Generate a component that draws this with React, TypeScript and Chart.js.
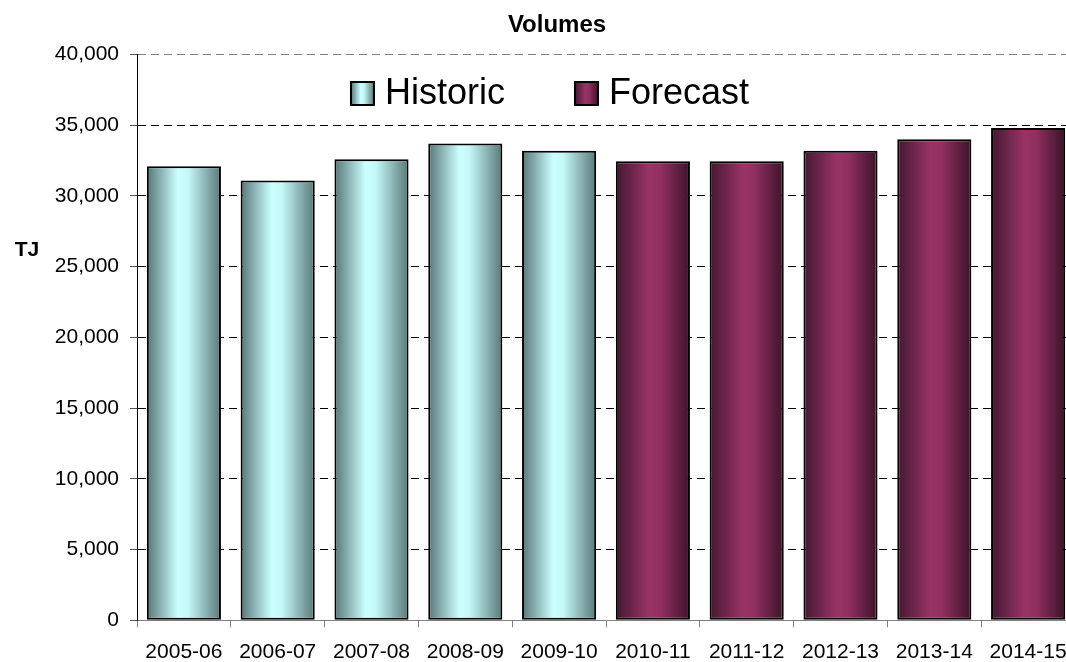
import { useEffect, useRef } from 'react';
import { Chart, registerables } from 'chart.js';

Chart.register(...registerables);

// Financial years on the category axis
const categories = [
  '2005-06', '2006-07', '2007-08', '2008-09', '2009-10',
  '2010-11', '2011-12', '2012-13', '2013-14', '2014-15',
];

// Annual volumes in TJ
const historic = [32100, 31100, 32600, 33700, 33200, null, null, null, null, null];
const forecast = [null, null, null, null, null, 32450, 32450, 33200, 34000, 34800];

const seriesNames = ['Historic', 'Forecast'];
const chartTitle = 'Volumes';
const unitText = 'TJ';
const yMin = 0;
const yMax = 40000;
const yStep = 5000;

const FONT = '"Liberation Sans", Arial, Helvetica, sans-serif';
const BAR_PCT = 0.79;

// Horizontal shading used for the cylinder-like bars
const historicStops: [number, string][] = [
  [0, '#577676'],
  [0.42, '#ccffff'],
  [0.56, '#c4f7f7'],
  [1, '#5a7878'],
];
const forecastStops: [number, string][] = [
  [0, '#431830'],
  [0.45, '#993366'],
  [0.6, '#913061'],
  [1, '#3c1329'],
];

function barFill(stops: [number, string][]) {
  return (c: any) => {
    const chart = c.chart;
    const xs = chart.scales?.x;
    if (c.type !== 'data' || !chart.chartArea || !xs) return stops[1][1];
    const center = xs.getPixelForValue(c.dataIndex);
    const half = ((xs.width / categories.length) * BAR_PCT) / 2;
    const g = chart.ctx.createLinearGradient(center - half, 0, center + half, 0);
    stops.forEach(([o, col]) => g.addColorStop(o, col));
    return g;
  };
}

// Legend drawn inside the plot area, above the bars
const insideLegend = {
  id: 'insideLegend',
  afterDatasetsDraw(chart: any) {
    const { ctx, chartArea } = chart;
    const box = 23;
    const textGap = 11;
    const itemGap = 70;
    ctx.save();
    ctx.font = `36px ${FONT}`;
    const widths = seriesNames.map((n) => ctx.measureText(n).width);
    const total = widths.reduce((a, w) => a + box + textGap + w, 0) + itemGap * (seriesNames.length - 1);
    const centerX = chartArea.left + 413;
    let x = centerX - total / 2;
    const top = chartArea.top + 27.5;
    const mid = top + box / 2;
    seriesNames.forEach((name, i) => {
      const stops = i === 0 ? historicStops : forecastStops;
      const g = ctx.createLinearGradient(x, 0, x + box, 0);
      stops.forEach(([o, col]) => g.addColorStop(o, col));
      ctx.fillStyle = g;
      ctx.fillRect(x, top, box, box);
      ctx.lineWidth = 2;
      ctx.strokeStyle = '#000';
      ctx.strokeRect(x, top, box, box);
      ctx.fillStyle = '#000';
      ctx.textAlign = 'left';
      ctx.textBaseline = 'middle';
      ctx.fillText(name, x + box + textGap, mid + 1);
      x += box + textGap + widths[i] + itemGap;
    });
    ctx.restore();
  },
};

// Title above the plot and horizontal unit label left of the value axis
const annotations = {
  id: 'annotations',
  afterDraw(chart: any) {
    const { ctx, chartArea } = chart;
    ctx.save();
    ctx.fillStyle = '#000';
    ctx.textAlign = 'center';
    ctx.textBaseline = 'middle';
    ctx.font = `bold 24px ${FONT}`;
    ctx.fillText(chartTitle, 557, 25);
    ctx.font = `bold 21px ${FONT}`;
    ctx.fillText(unitText, 27, chartArea.top + 196);
    ctx.restore();
  },
};

export default function App() {
  const ref = useRef<HTMLCanvasElement>(null);

  useEffect(() => {
    const canvas = ref.current;
    if (!canvas) return;
    const chart = new Chart(canvas, {
      type: 'bar',
      data: {
        labels: categories,
        datasets: [
          {
            label: seriesNames[0],
            data: historic,
            backgroundColor: barFill(historicStops),
            borderColor: '#000',
            borderWidth: 2,
            borderSkipped: false,
          },
          {
            label: seriesNames[1],
            data: forecast,
            backgroundColor: barFill(forecastStops),
            borderColor: '#000',
            borderWidth: 2,
            borderSkipped: false,
          },
        ],
      },
      options: {
        responsive: false,
        animation: false,
        devicePixelRatio: 1,
        layout: { padding: { left: 0, right: 10, top: 54.5, bottom: 0 } },
        datasets: {
          bar: { barPercentage: BAR_PCT, categoryPercentage: 1 },
        },
        plugins: {
          legend: { display: false },
          tooltip: { enabled: false },
          title: { display: false },
        },
        scales: {
          x: {
            stacked: true,
            offset: true,
            grid: {
              offset: true,
              drawOnChartArea: false,
              color: '#808080',
              tickLength: 7,
            },
            border: { display: true, color: '#808080', width: 1 },
            ticks: {
              color: '#000',
              font: { family: FONT, size: 21 },
              padding: 12,
              maxRotation: 0,
              autoSkip: false,
            },
            afterFit: (s: any) => {
              s.height = 41.7;
            },
          },
          y: {
            stacked: true,
            min: yMin,
            max: yMax,
            grid: {
              color: (c: any) =>
                c.tick && c.tick.value === yMax ? '#808080' : c.tick && c.tick.value === yMin ? 'rgba(0,0,0,0)' : '#000',
              lineWidth: 1,
              tickLength: 7,
              tickColor: '#555',
              tickBorderDash: [],
            } as any,
            border: { display: true, color: '#000', width: 1, dash: [8, 5] } as any,
            ticks: {
              stepSize: yStep,
              color: '#000',
              font: { family: FONT, size: 21 },
              padding: 11,
              callback: (v: any) => Number(v).toLocaleString('en-US'),
            },
            afterFit: (s: any) => {
              s.width = 137;
            },
          },
        },
      },
      plugins: [insideLegend, annotations],
    });
    return () => chart.destroy();
  }, []);

  return (
    <div
      style={{
        position: 'fixed',
        left: 0,
        top: 0,
        width: 1066,
        height: 662,
        overflow: 'hidden',
        background: '#fff',
      }}
    >
      <canvas ref={ref} width={1085} height={662} style={{ display: 'block' }} />
    </div>
  );
}
